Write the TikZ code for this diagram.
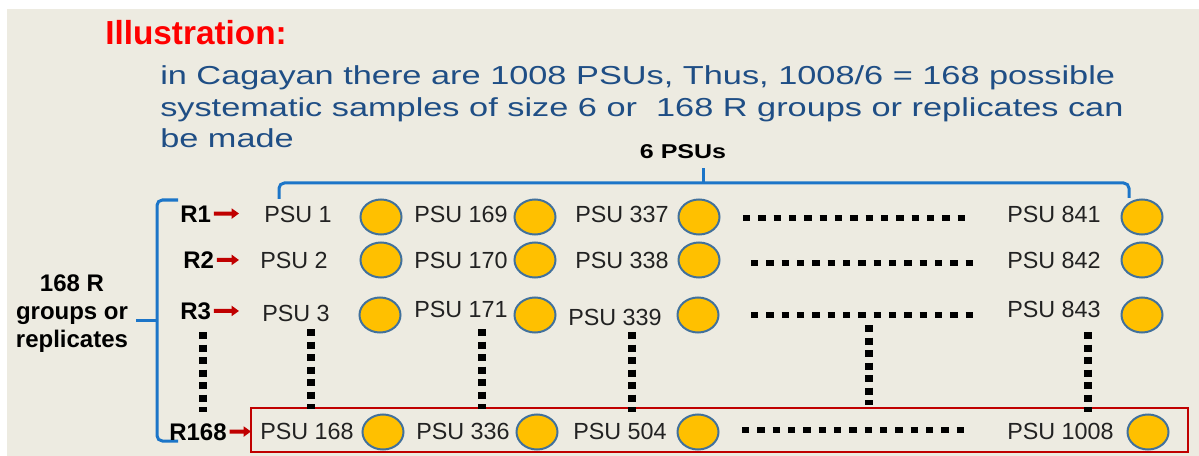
\documentclass[tikz,border=0pt]{standalone}
\usepackage{fontspec}
\setmainfont{Liberation Sans}
\usetikzlibrary{shapes.geometric,arrows.meta}
\definecolor{bg}{HTML}{EDEBE1}
\definecolor{titlered}{HTML}{FF0000}
\definecolor{bluetext}{HTML}{1F4E85}
\definecolor{bracecol}{HTML}{1C75C8}
\definecolor{boxred}{HTML}{C00000}
\definecolor{circfill}{HTML}{FFC000}
\definecolor{circline}{HTML}{41719C}
\definecolor{psutext}{HTML}{222222}
\begin{document}
\begin{tikzpicture}[x=0.75pt,y=-0.75pt,
  psu/.style={anchor=base west,inner sep=0pt,font=\fontsize{17.5}{20}\selectfont,text=psutext},
  rlab/.style={anchor=base west,inner sep=0pt,font=\bfseries\fontsize{18}{20}\selectfont},
  psudot/.style={ellipse,draw=circline,fill=circfill,line width=1.5pt,minimum width=30.75pt,minimum height=26.25pt,inner sep=0pt},
  hdots/.style={line width=4.8pt,dash pattern=on 5.5pt off 6pt},
  vdots/.style={line width=5.4pt,dash pattern=on 5.4pt off 4pt},
  rarrow/.style={boxred,line width=3pt,shorten <=2pt,-{Triangle[length=5.5pt,width=7.5pt]}},
  brace/.style={bracecol,line width=2.25pt,rounded corners=4pt},
  bluet/.style={anchor=base west,inner sep=0pt,font=\fontsize{19.5}{24}\selectfont,text=bluetext}]
\useasboundingbox (0,0) rectangle (1199,456);
\fill[white] (0,0) rectangle (1199,456);
\fill[bg] (7,9) rectangle (1199,456);

% title and explanation
\node[anchor=base west,inner sep=0pt,font=\bfseries\fontsize{25}{30}\selectfont,text=titlered] (title) at (105,45) {Illustration:};
\node[bluet] (l1) at (160,85) {\scalebox{1.32}[1]{in Cagayan there are 1008 PSUs, Thus, 1008/6 = 168 possible}};
\node[bluet] (l2) at (160,117) {\scalebox{1.32}[1]{systematic samples of size 6 or \ 168 R groups or replicates can}};
\node[bluet] (l3) at (160,148) {\scalebox{1.32}[1]{be made}};

% top brace
\node[anchor=base,inner sep=0pt,font=\bfseries\fontsize{15}{18}\selectfont] (six) at (683,159) {\scalebox{1.25}[1]{6 PSUs}};
\coordinate (tbl) at (279,199);
\coordinate (tbm) at (703,183);
\coordinate (tbr) at (1129,198);
\coordinate (tbt) at (703,168);
\draw[brace] (tbl) |- (tbm) -| (tbr);
\draw[bracecol,line width=2.25pt] (tbm) -- (tbt);

% left brace
\coordinate (lbt) at (178,200);
\coordinate (lbb) at (178,441);
\coordinate (lbm) at (157,320);
\coordinate (lbk) at (136,320);
\draw[brace] (lbt) -| (157,441) -- (lbb);
\draw[bracecol,line width=2.25pt] (lbm) -- (lbk);
\node[anchor=north,inner sep=0pt,align=center,font=\bfseries\fontsize{18}{21}\selectfont] (grp) at (72,274) {168 R\\groups or\\replicates};

% red box for R168
\draw[boxred,line width=1.5pt] (251,408) rectangle (1188,452);

% row labels and arrows
\node[rlab] (r1) at (180,222) {R1};
\node[rlab] (r2) at (183,268) {R2};
\node[rlab] (r3) at (180,319) {R3};
\node[rlab] (r168) at (169,440) {R168};
\coordinate (a1) at (239,213.5);
\coordinate (a2) at (239,260);
\coordinate (a3) at (239,311);
\coordinate (a168) at (251,431.5);
\draw[rarrow] (r1) -- (a1);
\draw[rarrow] (r2) -- (a2);
\draw[rarrow] (r3) -- (a3);
\draw[rarrow] (r168) -- (a168);

% row 1
\node[psu] (p1) at (264,223) {PSU 1};
\node[psu] (p169) at (414,223) {PSU 169};
\node[psu] (p337) at (575,223) {PSU 337};
\node[psu] (p841) at (1007,223) {PSU 841};
\node[psudot] (c11) at (381,217) {};
\node[psudot] (c12) at (535,217) {};
\node[psudot] (c13) at (699,217) {};
\node[psudot] (c14) at (1142,217) {};
% row 2
\node[psu] (p2) at (260,268) {PSU 2};
\node[psu] (p170) at (414,268) {PSU 170};
\node[psu] (p338) at (575,268) {PSU 338};
\node[psu] (p842) at (1007,268) {PSU 842};
\node[psudot] (c21) at (381,260) {};
\node[psudot] (c22) at (535,260) {};
\node[psudot] (c23) at (699,260) {};
\node[psudot] (c24) at (1142,260) {};
% row 3
\node[psu] (p3) at (262,321) {PSU 3};
\node[psu] (p171) at (414,317) {PSU 171};
\node[psu] (p339) at (568,325) {PSU 339};
\node[psu] (p843) at (1007,317) {PSU 843};
\node[psudot] (c31) at (380,315) {};
\node[psudot] (c32) at (535,315) {};
\node[psudot] (c33) at (698,315) {};
\node[psudot] (c34) at (1142,315) {};
% row 168
\node[psu] (p168) at (260,439) {PSU 168};
\node[psu] (p336) at (416,439) {PSU 336};
\node[psu] (p504) at (573,439) {PSU 504};
\node[psu] (p1008) at (1007,439) {PSU 1008};
\node[psudot] (c41) at (383,432) {};
\node[psudot] (c42) at (537,432) {};
\node[psudot] (c43) at (698,432) {};
\node[psudot] (c44) at (1148,432) {};

% horizontal dotted lines
\coordinate (h1a) at (743,218); \coordinate (h1b) at (966,218);
\coordinate (h2a) at (751,263); \coordinate (h2b) at (974,263);
\coordinate (h3a) at (751,315); \coordinate (h3b) at (974,315);
\coordinate (h4a) at (742,430); \coordinate (h4b) at (965,430);
\draw[hdots] (h1a) -- (h1b);
\draw[hdots] (h2a) -- (h2b);
\draw[hdots] (h3a) -- (h3b);
\draw[hdots] (h4a) -- (h4b);

% vertical dotted lines
\coordinate (v1a) at (203,332); \coordinate (v1b) at (203,412);
\coordinate (v2a) at (311,329); \coordinate (v2b) at (311,409);
\coordinate (v3a) at (482,329); \coordinate (v3b) at (482,409);
\coordinate (v4a) at (632,332); \coordinate (v4b) at (632,412);
\coordinate (v5a) at (869,325); \coordinate (v5b) at (869,405);
\coordinate (v6a) at (1088,332); \coordinate (v6b) at (1088,412);
\draw[vdots] (v1a) -- (v1b);
\draw[vdots] (v2a) -- (v2b);
\draw[vdots] (v3a) -- (v3b);
\draw[vdots] (v4a) -- (v4b);
\draw[vdots] (v5a) -- (v5b);
\draw[vdots] (v6a) -- (v6b);
\end{tikzpicture}
\end{document}
